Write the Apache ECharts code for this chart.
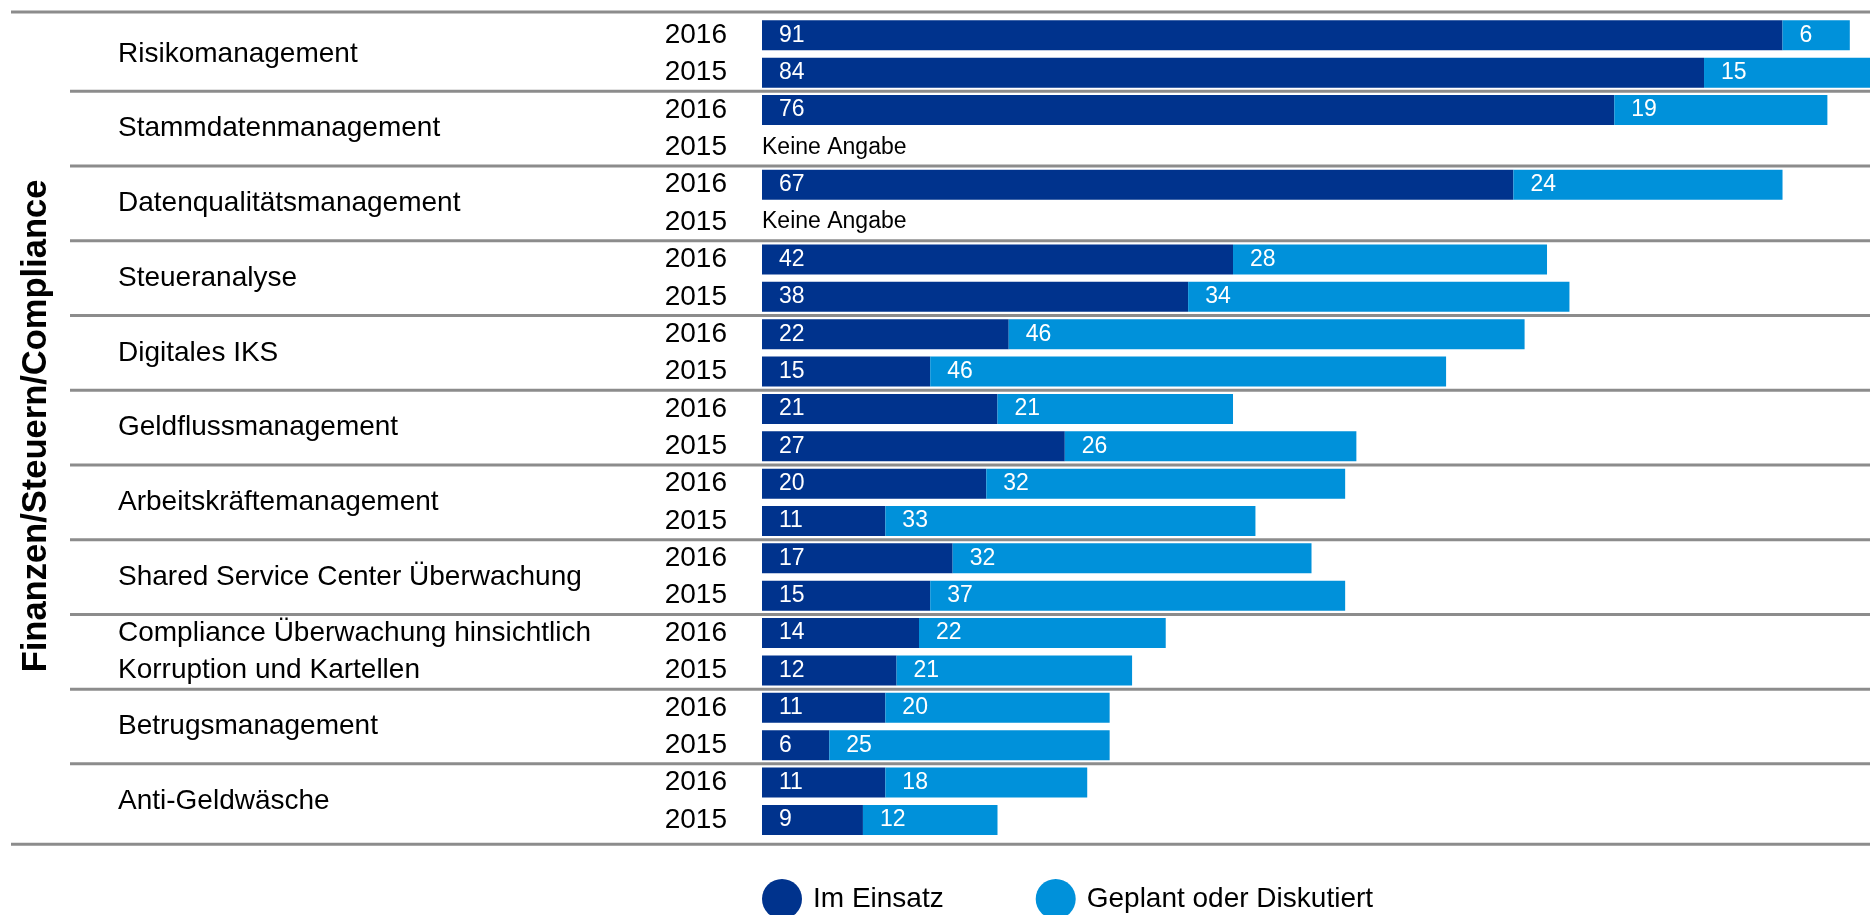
<!DOCTYPE html>
<html>
<head>
<meta charset="utf-8">
<script src="https://cdn.jsdelivr.net/npm/echarts@6/dist/echarts.min.js"></script>
<style>
  html, body { margin: 0; padding: 0; background: #fff; }
  #chart { width: 1870px; height: 915px; }
</style>
</head>
<body>
<div id="chart"></div>
<script>
// Categories (one group per tool, two years each)
const groups = [
  'Risikomanagement',
  'Stammdatenmanagement',
  'Datenqualitätsmanagement',
  'Steueranalyse',
  'Digitales IKS',
  'Geldflussmanagement',
  'Arbeitskräftemanagement',
  'Shared Service Center Überwachung',
  'Compliance Überwachung hinsichtlich\nKorruption und Kartellen',
  'Betrugsmanagement',
  'Anti-Geldwäsche'
];
const years = ['2016', '2015'];
const seriesNames = ['Im Einsatz', 'Geplant oder Diskutiert'];

// Values per group (null = keine Angabe)
const inUse2016   = [91, 76, 67, 42, 22, 21, 20, 17, 14, 11, 11];
const planned2016 = [6, 19, 24, 28, 46, 21, 32, 32, 22, 20, 18];
const inUse2015   = [84, null, null, 38, 15, 27, 11, 15, 12, 6, 9];
const planned2015 = [15, null, null, 34, 46, 26, 33, 37, 21, 25, 12];

const noDataText = 'Keine Angabe';
const axisTitle = 'Finanzen/Steuern/Compliance';

const font = '"Liberation Sans", Arial, Helvetica, sans-serif';
const darkBlue = '#00338D';
const lightBlue = '#0091DA';
const lineGrey = '#8c8c8c';

// build the 22 rows: 2016 then 2015 for each group
const rowYears = [];
const inUseRows = [];
const plannedRows = [];
groups.forEach((g, i) => {
  rowYears.push(years[0], years[1]);
  inUseRows.push(inUse2016[i], inUse2015[i]);
  plannedRows.push(planned2016[i], planned2015[i]);
});

const chart = echarts.init(document.getElementById('chart'));

const valueLabel = {
  show: true,
  position: 'insideLeft',
  distance: 17,
  color: '#fff',
  fontSize: 23,
  fontFamily: font
};

const option = {
  animation: false,
  backgroundColor: '#fff',
  grid: { left: 762, right: 0, top: 16.6, height: 822 },
  xAxis: { type: 'value', min: 0, max: 98.8, show: false },
  yAxis: [
    {
      type: 'category',
      inverse: true,
      data: rowYears,
      axisLine: { show: false },
      axisTick: { show: false },
      axisLabel: { margin: 35, color: '#000', fontSize: 28, fontFamily: font }
    },
    {
      type: 'category',
      inverse: true,
      position: 'left',
      data: groups,
      axisLine: { show: false },
      axisTick: { show: false },
      axisLabel: {
        margin: 644,
        align: 'left',
        color: '#000',
        fontSize: 28,
        lineHeight: 37,
        fontFamily: font
      }
    }
  ],
  legend: {
    data: seriesNames,
    left: 762,
    top: 879,
    padding: 0,
    icon: 'circle',
    itemWidth: 40,
    itemHeight: 40,
    itemGap: 92,
    textStyle: { color: '#000', fontSize: 28, fontFamily: font, padding: [0, 0, 0, 6] }
  },
  series: [
    {
      name: seriesNames[0],
      type: 'bar',
      stack: 'total',
      barWidth: 30,
      itemStyle: { color: darkBlue },
      label: valueLabel,
      data: inUseRows.map(v => v === null
        ? { value: 0, label: { position: 'right', distance: 0, color: '#000', formatter: noDataText } }
        : v)
    },
    {
      name: seriesNames[1],
      type: 'bar',
      stack: 'total',
      barWidth: 30,
      itemStyle: { color: lightBlue },
      label: valueLabel,
      data: plannedRows
    }
  ]
};

chart.setOption(option);

// separator lines between groups, placed from the category axis
const yOf = i => chart.convertToPixel({ yAxisIndex: 0 }, i);
const pitch = yOf(1) - yOf(0);
const lines = [];
const lineStyle = { stroke: lineGrey, lineWidth: 3 };
const topY = yOf(0) - pitch / 2 - 4.6;
const bottomY = yOf(rowYears.length - 1) + pitch / 2 + 5.6;
lines.push({ type: 'line', shape: { x1: 11, y1: topY, x2: 1870, y2: topY }, style: lineStyle });
lines.push({ type: 'line', shape: { x1: 11, y1: bottomY, x2: 1870, y2: bottomY }, style: lineStyle });
for (let g = 1; g < groups.length; g++) {
  const y = (yOf(2 * g - 1) + yOf(2 * g)) / 2;
  lines.push({ type: 'line', shape: { x1: 70, y1: y, x2: 1870, y2: y }, style: lineStyle });
}
lines.push({
  type: 'text',
  x: 36,
  y: 426,
  rotation: Math.PI / 2,
  style: {
    text: axisTitle,
    fill: '#000',
    font: 'bold 34.5px ' + font,
    align: 'center',
    verticalAlign: 'middle'
  }
});

chart.setOption({ graphic: lines });
</script>
</body>
</html>
